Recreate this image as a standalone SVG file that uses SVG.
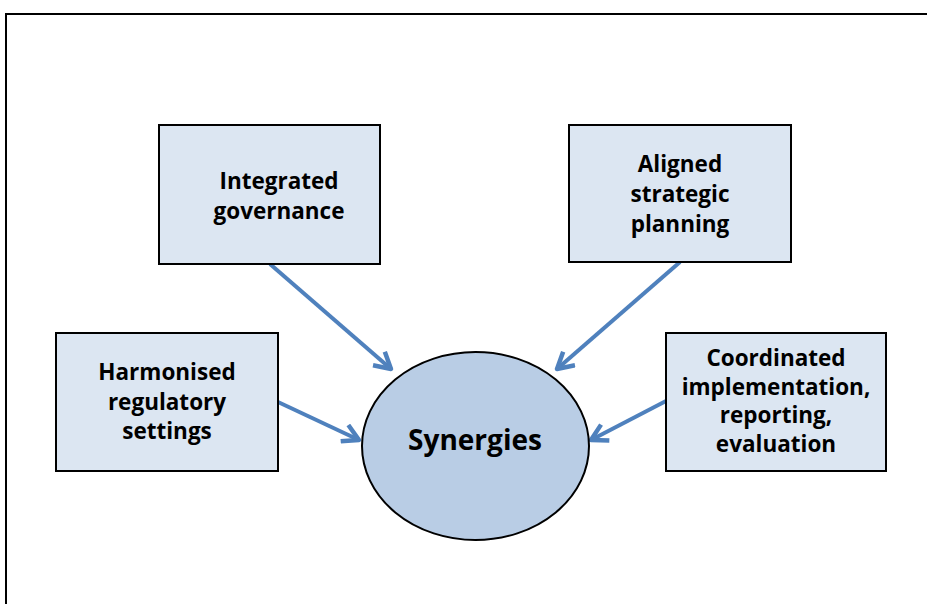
<svg xmlns="http://www.w3.org/2000/svg" width="927" height="604" viewBox="0 0 927 604">
  <style>
    .box { fill: #dce6f2; stroke: #000; stroke-width: 2; }
    .lbl { font-family: "Open Sans", "Liberation Sans", sans-serif; font-weight: bold; font-size: 22.5px; fill: #000; text-anchor: middle; }
    .conn { stroke: #4f81bd; stroke-width: 4; fill: none; }
  </style>
  <defs>
    <marker id="arr" viewBox="0 0 22 22" markerWidth="22" markerHeight="22" refX="19" refY="11" orient="auto" markerUnits="userSpaceOnUse">
      <path d="M3,2 L19,11 L3,20" fill="none" stroke="#4f81bd" stroke-width="4.5" stroke-linejoin="round"/>
    </marker>
  </defs>
  <rect width="927" height="604" fill="#fff"/>
  <rect x="6" y="14" width="940" height="620" fill="none" stroke="#000" stroke-width="2"/>

  <g id="connectors">
    <line class="conn" x1="270" y1="264" x2="391" y2="369" marker-end="url(#arr)"/>
    <line class="conn" x1="680" y1="262" x2="557" y2="369" marker-end="url(#arr)"/>
    <line class="conn" x1="278" y1="402" x2="359" y2="440" marker-end="url(#arr)"/>
    <line class="conn" x1="666" y1="401" x2="591" y2="440" marker-end="url(#arr)"/>
  </g>

  <g id="synergies">
    <ellipse cx="475.5" cy="446" rx="113.5" ry="94" fill="#b9cde5" stroke="#000" stroke-width="2"/>
    <text class="lbl" x="475" y="450" style="font-size:28px">Synergies</text>
  </g>

  <g id="integrated-governance">
    <rect class="box" x="159" y="125" width="221" height="139"/>
    <text class="lbl" x="279" y="189">Integrated</text>
    <text class="lbl" x="279" y="219">governance</text>
  </g>

  <g id="aligned-strategic-planning">
    <rect class="box" x="569" y="125" width="222" height="137"/>
    <text class="lbl" x="680" y="172">Aligned</text>
    <text class="lbl" x="680" y="202">strategic</text>
    <text class="lbl" x="680" y="232">planning</text>
  </g>

  <g id="harmonised-regulatory-settings">
    <rect class="box" x="56" y="333" width="222" height="138"/>
    <text class="lbl" x="167" y="380">Harmonised</text>
    <text class="lbl" x="167" y="410">regulatory</text>
    <text class="lbl" x="167" y="439">settings</text>
  </g>

  <g id="coordinated-implementation">
    <rect class="box" x="666" y="333" width="220" height="138"/>
    <text class="lbl" x="776" y="366">Coordinated</text>
    <text class="lbl" x="776" y="394.5">implementation,</text>
    <text class="lbl" x="776" y="423">reporting,</text>
    <text class="lbl" x="776" y="451.5">evaluation</text>
  </g>
</svg>
